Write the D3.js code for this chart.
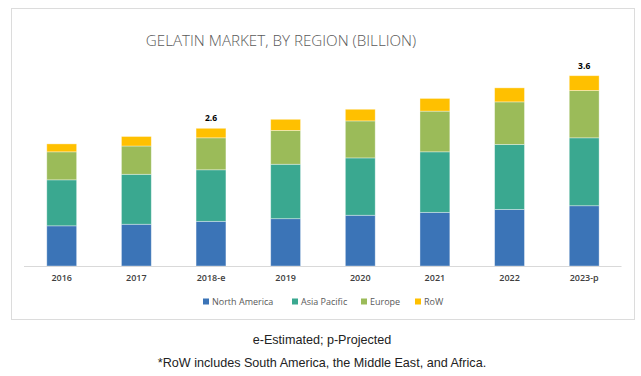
<!DOCTYPE html>
<html><head><meta charset="utf-8">
<script src="https://cdn.jsdelivr.net/npm/d3@7"></script>
<style>body{margin:0;background:#fff}svg{display:block}</style>
</head><body>
<svg id="c" width="641" height="376"></svg>
<script>
const categories = ["2016","2017","2018-e","2019","2020","2021","2022","2023-p"];
const seriesNames = ["North America","Asia Pacific","Europe","RoW"];
const northAmerica = [0.76,0.79,0.845,0.895,0.96,1.015,1.07,1.14];
const asiaPacific  = [0.87,0.945,0.975,1.03,1.085,1.145,1.23,1.285];
const europe       = [0.53,0.535,0.605,0.64,0.70,0.77,0.805,0.895];
const row          = [0.15,0.18,0.18,0.21,0.22,0.24,0.265,0.28];
const totalLabels  = {"2018-e":"2.6","2023-p":"3.6"};
const colors = ["#3b74b7","#3aa890","#9bbb59","#ffc000"];

const svg = d3.select("#c");
// outer box
svg.append("rect").attr("x",11.5).attr("y",8.5).attr("width",623).attr("height",311)
  .attr("fill","none").attr("stroke","#dcdcdc");

svg.append("text").attr("x",281).attr("y",46).attr("text-anchor","middle")
  .attr("font-family","Open Sans").attr("font-weight",300).attr("font-size",15.2)
  .attr("fill","#595959").text("GELATIN MARKET, BY REGION (BILLION)");

const x = d3.scaleBand().domain(categories).range([24.4,621.5]).paddingInner(0.6).paddingOuter(0.3);
const y = d3.scaleLinear().domain([0,3.6]).range([266,75.7]);

const table = categories.map((c,i)=>({cat:c,"North America":northAmerica[i],"Asia Pacific":asiaPacific[i],"Europe":europe[i],"RoW":row[i]}));
const stack = d3.stack().keys(seriesNames)(table);

svg.append("g").selectAll("g").data(stack).join("g").attr("fill",(d,i)=>colors[i])
  .selectAll("rect").data(d=>d).join("rect")
  .attr("x",d=>x(d.data.cat)).attr("width",x.bandwidth())
  .attr("y",d=>y(d[1])).attr("height",d=>y(d[0])-y(d[1]))
  .attr("stroke","#ffffff").attr("stroke-opacity",0.45).attr("stroke-width",0.8);

// axis
const ax = svg.append("g").attr("transform","translate(0,266)").call(d3.axisBottom(x).tickSize(0).tickPadding(9));
ax.select(".domain").attr("stroke","#d9d9d9").attr("d","M24,0.5H621.5");
ax.selectAll("text").attr("font-family","Open Sans").attr("font-weight",600).attr("font-size",9)
  .attr("fill","#404040");

// total labels
const last = stack[stack.length-1];
svg.append("g").selectAll("text").data(last.filter(d=>totalLabels[d.data.cat])).join("text")
  .attr("x",d=>x(d.data.cat)+x.bandwidth()/2).attr("y",d=>y(d[1])-7)
  .attr("text-anchor","middle").attr("font-family","Open Sans").attr("font-weight",700)
  .attr("font-size",8.5).attr("fill","#000").text(d=>totalLabels[d.data.cat]);

// legend
const legX = [203,292,361,415];
const lg = svg.append("g").selectAll("g").data(seriesNames).join("g")
  .attr("transform",(d,i)=>`translate(${legX[i]},302)`);
lg.append("rect").attr("x",0).attr("y",-3.5).attr("width",6).attr("height",6).attr("fill",(d,i)=>colors[i]);
lg.append("text").attr("x",9).attr("y",3).attr("font-family","Open Sans").attr("font-size",9)
  .attr("fill","#595959").text(d=>d);

svg.append("text").attr("x",322).attr("y",344).attr("text-anchor","middle")
  .attr("font-family","Liberation Sans").attr("font-size",12.6).attr("fill","#222")
  .text("e-Estimated; p-Projected");
svg.append("text").attr("x",322).attr("y",367).attr("text-anchor","middle")
  .attr("font-family","Liberation Sans").attr("font-size",12.6).attr("fill","#222")
  .text("*RoW includes South America, the Middle East, and Africa.");
</script>
</body></html>
